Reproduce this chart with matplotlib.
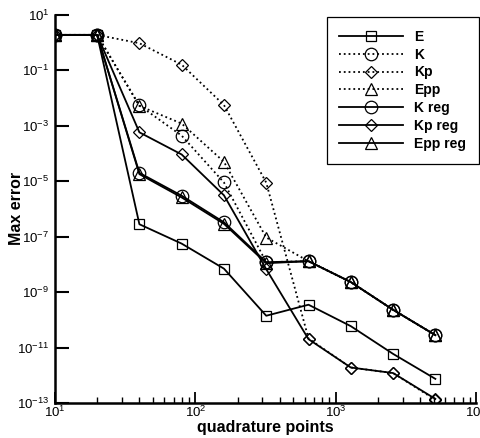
import matplotlib
matplotlib.use("Agg")
import matplotlib.pyplot as plt
from matplotlib.ticker import FixedLocator, LogLocator, NullLocator, NullFormatter

plt.rcParams['font.family'] = ['Liberation Sans', 'DejaVu Sans']
plt.rcParams['mathtext.fontset'] = 'custom'
plt.rcParams['mathtext.rm'] = 'Liberation Sans'
plt.rcParams['mathtext.it'] = 'Liberation Sans:italic'
plt.rcParams['mathtext.bf'] = 'Liberation Sans:bold'

# =========================================================
# data
# =========================================================
npts = [10, 20, 40, 80, 160, 320, 640, 1280, 2560, 5120]

err_E = [1.9, 1.9, 2.8e-7, 5.6e-8, 7.0e-9, 1.4e-10, 3.5e-10, 5.9e-11, 5.9e-12, 7.4e-13]
err_K = [1.9, 1.9, 5.4e-3, 4.4e-4, 9.0e-6, 1.2e-8, 1.3e-8, 2.3e-9, 2.3e-10, 2.8e-11]
err_Kp = [1.9, 1.9, 0.95, 0.16, 5.6e-3, 8.9e-6, 2.1e-11, 1.9e-12, 1.2e-12, 1.3e-13]
err_Epp = [1.9, 1.9, 5.2e-3, 1.2e-3, 5.0e-5, 9.3e-8, 1.3e-8, 2.3e-9, 2.3e-10, 2.8e-11]
err_K_reg = [1.9, 1.9, 2.0e-5, 3.0e-6, 3.3e-7, 1.2e-8, 1.3e-8, 2.3e-9, 2.3e-10, 2.8e-11]
err_Kp_reg = [1.9, 1.9, 5.8e-4, 9.2e-5, 3.1e-6, 6.7e-9, 2.0e-11, 1.9e-12, 1.2e-12, 1.4e-13]
err_Epp_reg = [1.9, 1.9, 1.8e-5, 2.6e-6, 2.9e-7, 1.1e-8, 1.3e-8, 2.3e-9, 2.3e-10, 2.8e-11]

series = [
    ("E", err_E, "-", "s"),
    ("K", err_K, ":", "o"),
    ("Kp", err_Kp, ":", "D"),
    ("Epp", err_Epp, ":", "^"),
    ("K reg", err_K_reg, "-", "o"),
    ("Kp reg", err_Kp_reg, "-", "D"),
    ("Epp reg", err_Epp_reg, "-", "^"),
]
msizes = {"s": 7, "o": 9, "D": 6.5, "^": 8}

fig = plt.figure(figsize=(4.81, 4.38), dpi=100)
ax = fig.add_axes([0.114, 0.080, 0.876, 0.886])

for name, vals, ls, mk in series:
    ax.plot(npts, vals, linestyle=ls, color="black", lw=1.3,
            marker=mk, markersize=msizes[mk], markerfacecolor="none",
            markeredgecolor="black", markeredgewidth=0.9, label=name)

ax.set_xscale("log")
ax.set_yscale("log")
ax.set_xlim(10, 1e4)
ax.set_ylim(1e-13, 10)

yt = [10.0 ** e for e in range(1, -14, -2)]
ax.yaxis.set_major_locator(FixedLocator(yt))
ax.set_yticklabels([r"$10^{%d}$" % e for e in range(1, -14, -2)])
ax.yaxis.set_minor_locator(NullLocator())
ax.xaxis.set_major_locator(FixedLocator([10, 100, 1000, 10000]))
ax.set_xticklabels([r"$10^{1}$", r"$10^{2}$", r"$10^{3}$", r"$10^{4}$"])
ax.xaxis.set_minor_locator(LogLocator(base=10, subs=range(2, 10), numticks=20))
ax.xaxis.set_minor_formatter(NullFormatter())

for s in ["top", "right"]:
    ax.spines[s].set_visible(False)
for s in ["left", "bottom"]:
    ax.spines[s].set_linewidth(1.8)

ax.tick_params(axis="y", which="major", direction="in", length=10, width=1.5,
               labelsize=9.5, pad=4)
ax.tick_params(axis="x", which="major", direction="in", length=8, width=1.3,
               labelsize=9.5, pad=1)
ax.tick_params(axis="x", which="minor", direction="in", length=4.5, width=1.0)

ax.set_xlabel("quadrature points", fontsize=11.5, fontweight="bold", labelpad=0)
ax.set_ylabel("Max error", fontsize=11.5, fontweight="bold")
ax.yaxis.set_label_coords(-0.072, 0.5)

leg = ax.legend(loc="upper right", bbox_to_anchor=(1.022, 1.012), fancybox=False,
                edgecolor="black", framealpha=1, handlelength=4.6,
                prop={"weight": "bold", "size": 10}, labelspacing=0.28,
                borderpad=0.9, handletextpad=0.8)
leg.get_frame().set_linewidth(0.9)

fig.savefig("out.png", dpi=100)
